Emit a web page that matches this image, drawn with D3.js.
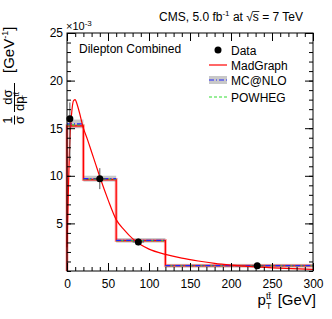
<!DOCTYPE html>
<html>
<head>
<meta charset="utf-8">
<script src="https://cdn.jsdelivr.net/npm/d3@7"></script>
<style>
    body { margin: 0; background: #fff; }
    svg { display: block; font-family: "Liberation Sans", Arial, sans-serif; }
</style>
</head>
<body>
<div id="chart"></div>
<script>
// ---- data (units of 10^-3 GeV^-1) ----
const binEdges = [0, 20, 60, 120, 300];
const madgraphHist = [15.25, 9.6, 3.2, 0.55];
const mcatnloHist = [15.45, 9.7, 3.22, 0.56];
const mcatnloErr = [0.3, 0.15, 0.08, 0.03];
const powhegHist = [15.35, 9.65, 3.2, 0.55];

const dataX = [3.5, 40, 87, 232];
const dataY = [16.0, 9.7, 3.05, 0.55];
const dataErrUp = [1.7, 1.1, 0.35, 0.12];
const dataErrDown = [4.4, 1.1, 0.35, 0.12];
const dataXErr = [3, 7, 7, 7];

// MadGraph smooth curve
const curveX = [0, 1, 2, 3, 4, 6, 8, 10, 12, 15, 20, 25, 30, 35, 40, 50, 60, 70, 80, 90, 100, 120, 140, 160, 180, 200, 225, 250, 275, 300];
const curveY = [2.5, 6, 9.5, 12.5, 14.6, 16.9, 17.9, 18.0, 17.6, 16.7, 15.0, 13.8, 12.5, 11.2, 9.9, 7.5, 5.4, 4.3, 3.4, 2.75, 2.3, 1.75, 1.35, 1.05, 0.8, 0.62, 0.45, 0.33, 0.24, 0.17];

const xTicks = [0, 50, 100, 150, 200, 250, 300];
const yTicks = [5, 10, 15, 20, 25];

const legendNames = ['Data', 'MadGraph', 'MC@NLO', 'POWHEG'];

// ---- layout ----
const W = 332, H = 319;
const plot = { left: 67, right: 313, top: 33, bottom: 271 };

const svg = d3.select('#chart').append('svg')
    .attr('width', W).attr('height', H);

const x = d3.scaleLinear().domain([0, 300]).range([plot.left, plot.right]);
const y = d3.scaleLinear().domain([0, 25]).range([plot.bottom, plot.top]);

const g = svg.append('g');

// step path for a histogram
function stepPath(vals) {
    let pts = [[binEdges[0], 0]];
    vals.forEach(function(v, i) {
        pts.push([binEdges[i], v]);
        pts.push([binEdges[i + 1], v]);
    });
    return d3.line().x(d => x(d[0])).y(d => y(d[1]))(pts);
}

// MC@NLO grey band
g.selectAll('rect.band').data(mcatnloHist).enter().append('rect')
    .attr('x', (d, i) => x(binEdges[i]))
    .attr('width', (d, i) => x(binEdges[i + 1]) - x(binEdges[i]))
    .attr('y', (d, i) => y(d + mcatnloErr[i]) - 1.5)
    .attr('height', (d, i) => y(d - mcatnloErr[i]) - y(d + mcatnloErr[i]) + 3)
    .attr('fill', '#c8c8c8');

// MadGraph histogram (pink halo + red line)
g.append('path').attr('d', stepPath(madgraphHist))
    .attr('fill', 'none').attr('stroke', 'rgba(255,0,0,0.35)').attr('stroke-width', 3);
g.append('path').attr('d', stepPath(madgraphHist))
    .attr('fill', 'none').attr('stroke', '#ff0000').attr('stroke-width', 1.2);

// horizontal lines only for MC@NLO / POWHEG
function flatLines(vals, color, dash) {
    g.selectAll(null).data(vals).enter().append('line')
        .attr('x1', (d, i) => x(binEdges[i]))
        .attr('x2', (d, i) => x(binEdges[i + 1]))
        .attr('y1', d => y(d)).attr('y2', d => y(d))
        .attr('stroke', color).attr('stroke-width', 1.2)
        .attr('stroke-dasharray', dash);
}
flatLines(powhegHist, '#33dd33', '3,2');
flatLines(mcatnloHist, '#2222ff', '5,2,1,2');

// MadGraph curve
g.append('path')
    .datum(curveX.map((d, i) => [d, curveY[i]]))
    .attr('d', d3.line().curve(d3.curveMonotoneX).x(d => x(d[0])).y(d => y(d[1])))
    .attr('fill', 'none').attr('stroke', '#ff0000').attr('stroke-width', 1.2);

// data points
const pts = g.selectAll('g.pt').data(dataX).enter().append('g');
pts.append('line')
    .attr('x1', d => x(d)).attr('x2', d => x(d))
    .attr('y1', (d, i) => y(dataY[i] + dataErrUp[i]))
    .attr('y2', (d, i) => y(dataY[i] - dataErrDown[i]))
    .attr('stroke', '#555').attr('stroke-width', 1);
pts.append('line')
    .attr('x1', (d, i) => x(d - dataXErr[i])).attr('x2', (d, i) => x(d + dataXErr[i]))
    .attr('y1', (d, i) => y(dataY[i])).attr('y2', (d, i) => y(dataY[i]))
    .attr('stroke', '#555').attr('stroke-width', 1);
pts.append('circle')
    .attr('cx', d => x(d)).attr('cy', (d, i) => y(dataY[i]))
    .attr('r', 3.5).attr('fill', '#000');

// ---- axes ----
function styleAxis(sel) {
    sel.select('.domain').remove();
    sel.selectAll('line').attr('stroke', '#000');
    sel.selectAll('text').attr('font-size', 12).attr('fill', '#000')
        .attr('font-family', '"Liberation Sans", Arial, sans-serif');
}

svg.append('g').attr('transform', 'translate(0,' + plot.bottom + ')')
    .call(d3.axisBottom(x).tickValues(xTicks).tickSize(-8).tickPadding(8).tickFormat(d3.format('d')))
    .call(styleAxis);
svg.append('g').attr('transform', 'translate(0,' + plot.bottom + ')')
    .call(d3.axisBottom(x).tickValues(d3.range(0, 301, 10)).tickSize(-4).tickFormat(''))
    .call(styleAxis);
svg.append('g').attr('transform', 'translate(0,' + plot.top + ')')
    .call(d3.axisTop(x).tickValues(xTicks).tickSize(-8).tickFormat(''))
    .call(styleAxis);
svg.append('g').attr('transform', 'translate(0,' + plot.top + ')')
    .call(d3.axisTop(x).tickValues(d3.range(0, 301, 10)).tickSize(-4).tickFormat(''))
    .call(styleAxis);

svg.append('g').attr('transform', 'translate(' + plot.left + ',0)')
    .call(d3.axisLeft(y).tickValues(yTicks).tickSize(-8).tickPadding(4).tickFormat(d3.format('d')))
    .call(styleAxis);
svg.append('g').attr('transform', 'translate(' + plot.left + ',0)')
    .call(d3.axisLeft(y).tickValues(d3.range(0, 26, 1)).tickSize(-4).tickFormat(''))
    .call(styleAxis);
svg.append('g').attr('transform', 'translate(' + plot.right + ',0)')
    .call(d3.axisRight(y).tickValues(yTicks).tickSize(-8).tickFormat(''))
    .call(styleAxis);
svg.append('g').attr('transform', 'translate(' + plot.right + ',0)')
    .call(d3.axisRight(y).tickValues(d3.range(0, 26, 1)).tickSize(-4).tickFormat(''))
    .call(styleAxis);

// frame
svg.append('rect')
    .attr('x', plot.left).attr('y', plot.top)
    .attr('width', plot.right - plot.left).attr('height', plot.bottom - plot.top)
    .attr('fill', 'none').attr('stroke', '#000').attr('stroke-width', 1);

// ---- texts ----
const title = svg.append('text').attr('x', 303).attr('y', 21)
    .attr('text-anchor', 'end').attr('font-size', 12);
title.append('tspan').text('CMS, 5.0 fb');
title.append('tspan').attr('font-size', 8).attr('dy', -5).text('-1');
title.append('tspan').attr('dy', 5).text(' at ');
title.append('tspan').text('\u221A');
const sSpan = title.append('tspan').text('s');
title.append('tspan').text(' = 7 TeV');
// overline of the square root
const sBox = sSpan.node().getBBox();
svg.append('line')
    .attr('x1', sBox.x - 0.5).attr('x2', sBox.x + sBox.width + 0.5)
    .attr('y1', 11.5).attr('y2', 11.5)
    .attr('stroke', '#000').attr('stroke-width', 0.8);

const expo = svg.append('text').attr('x', 66).attr('y', 30).attr('font-size', 11);
expo.append('tspan').text('\u00D710');
expo.append('tspan').attr('font-size', 8).attr('dy', -4).text('-3');

svg.append('text').attr('x', 79).attr('y', 53).attr('font-size', 12)
    .text('Dilepton Combined');

// legend
const legY = [50, 65, 80, 97];
const leg = svg.append('g');
leg.selectAll('text').data(legendNames).enter().append('text')
    .attr('x', 231).attr('y', (d, i) => legY[i] + 4.5)
    .attr('font-size', 12).text(d => d);
leg.append('circle').attr('cx', 218).attr('cy', legY[0]).attr('r', 3.5).attr('fill', '#000');
leg.append('line').attr('x1', 209).attr('x2', 227).attr('y1', legY[1]).attr('y2', legY[1])
    .attr('stroke', '#ff0000').attr('stroke-width', 1.2);
leg.append('rect').attr('x', 209).attr('y', legY[2] - 4).attr('width', 18).attr('height', 8)
    .attr('fill', '#c8c8c8');
leg.append('line').attr('x1', 209).attr('x2', 227).attr('y1', legY[2]).attr('y2', legY[2])
    .attr('stroke', '#2222ff').attr('stroke-width', 1.2).attr('stroke-dasharray', '5,2,1,2');
leg.append('line').attr('x1', 209).attr('x2', 227).attr('y1', legY[3]).attr('y2', legY[3])
    .attr('stroke', '#33dd33').attr('stroke-width', 1.2).attr('stroke-dasharray', '3,2');

// x axis title
const xt = svg.append('text').attr('x', 316).attr('y', 305)
    .attr('text-anchor', 'end').attr('font-size', 15);
xt.append('tspan').text('p');
xt.append('tspan').attr('font-size', 9).attr('dy', -6).text('t\u0074\u0304');
xt.append('tspan').attr('font-size', 9).attr('dy', 10).attr('dx', -5).text('T');
xt.append('tspan').attr('dy', -4).attr('dx', 2).text(' [GeV]');

// y axis title (rotated)
const yt = svg.append('g').attr('transform', 'translate(14,124) rotate(-90)');
// 1/sigma
yt.append('text').attr('x', 4).attr('y', -2).attr('text-anchor', 'middle').attr('font-size', 13).text('1');
yt.append('text').attr('x', 4).attr('y', 10).attr('text-anchor', 'middle').attr('font-size', 13).text('\u03C3');
yt.append('line').attr('x1', -0.5).attr('x2', 8.5).attr('y1', 0.5).attr('y2', 0.5).attr('stroke', '#000');
// dsigma / dpT
yt.append('text').attr('x', 27).attr('y', -2).attr('text-anchor', 'middle').attr('font-size', 13).text('d\u03C3');
const dp = yt.append('text').attr('x', 13).attr('y', 10).attr('font-size', 13);
dp.append('tspan').text('dp');
dp.append('tspan').attr('font-size', 8).attr('dy', -5).text('t\u0074\u0304');
dp.append('tspan').attr('font-size', 8).attr('dy', 8).attr('dx', -8).text('T');
yt.append('line').attr('x1', 12).attr('x2', 41).attr('y1', 0.5).attr('y2', 0.5).attr('stroke', '#000');
// units
const un = yt.append('text').attr('x', 51).attr('y', 0).attr('font-size', 15);
un.append('tspan').text('[GeV');
un.append('tspan').attr('font-size', 9).attr('dy', -6).text('-1');
un.append('tspan').attr('dy', 6).text(']');
</script>
</body>
</html>
